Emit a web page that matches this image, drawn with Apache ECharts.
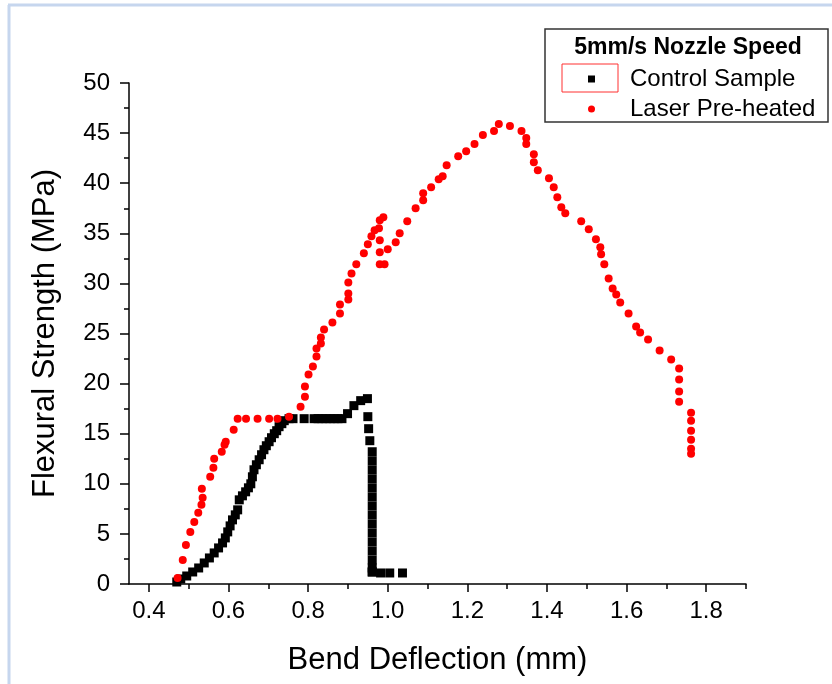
<!DOCTYPE html>
<html>
<head>
<meta charset="utf-8">
<script src="https://cdn.jsdelivr.net/npm/echarts@6/dist/echarts.min.js"></script>
<style>
html,body{margin:0;padding:0;background:#fff;}
#chart{width:832px;height:684px;}
</style>
</head>
<body>
<div id="chart"></div>
<script>
// ---- Data ----
const controlX = [0.470,0.480,0.495,0.510,0.525,0.539,0.552,0.564,0.575,0.585,0.592,0.598,0.604,0.610,0.617,0.623,0.627,0.635,0.643,0.650,0.656,0.660,0.664,0.670,0.677,0.683,0.689,0.695,0.702,0.708,0.715,0.721,0.727,0.734,0.740,0.752,0.762,0.790,0.815,0.825,0.835,0.845,0.855,0.865,0.875,0.885,0.899,0.915,0.932,0.949,0.950,0.952,0.955,0.961,0.961,0.961,0.961,0.961,0.961,0.961,0.961,0.961,0.961,0.961,0.961,0.961,0.961,0.961,0.961,0.982,1.005,1.037];
const controlY = [0.2,0.5,0.8,1.2,1.6,2.1,2.6,3.1,3.6,4.1,4.6,5.2,5.8,6.4,6.9,7.4,8.4,8.8,9.2,9.6,10.0,10.7,11.4,11.9,12.4,12.9,13.4,13.8,14.2,14.6,15.0,15.3,15.7,16.0,16.3,16.5,16.5,16.5,16.5,16.5,16.5,16.5,16.5,16.5,16.5,16.5,17.0,17.8,18.3,18.5,16.7,15.5,14.3,13.2,12.3,11.4,10.5,9.6,8.7,7.8,6.9,6.0,5.1,4.2,3.3,2.4,1.6,1.2,1.2,1.1,1.1,1.1];

const laserX = [0.472,0.485,0.493,0.504,0.514,0.524,0.532,0.535,0.533,0.554,0.562,0.564,0.583,0.590,0.593,0.613,0.623,0.644,0.673,0.702,0.723,0.752,0.781,0.792,0.792,0.801,0.812,0.821,0.821,0.832,0.832,0.840,0.861,0.880,0.880,0.901,0.901,0.901,0.909,0.921,0.940,0.950,0.959,0.967,0.978,0.980,0.989,0.980,0.980,0.980,0.992,1.000,1.020,1.030,1.049,1.070,1.089,1.089,1.109,1.128,1.138,1.148,1.177,1.197,1.218,1.239,1.267,1.279,1.307,1.336,1.348,1.348,1.367,1.367,1.377,1.405,1.417,1.426,1.436,1.446,1.486,1.505,1.523,1.534,1.536,1.544,1.555,1.565,1.574,1.584,1.605,1.624,1.634,1.654,1.683,1.712,1.732,1.732,1.732,1.732,1.762,1.762,1.762,1.762,1.762,1.762];
const laserY = [0.6,2.4,3.9,5.2,6.2,7.1,7.9,8.6,9.5,10.7,11.6,12.5,13.2,13.9,14.2,15.4,16.5,16.5,16.5,16.5,16.5,16.7,17.7,18.7,19.7,20.9,21.7,22.7,23.5,24.0,24.6,25.4,26.1,27.0,27.9,28.4,29.0,30.1,31.0,31.9,33.0,33.9,34.7,35.3,35.5,36.3,36.6,34.3,33.1,31.9,31.9,33.4,34.1,35.0,36.2,37.5,38.3,39.0,39.6,40.4,40.7,41.8,42.7,43.2,43.9,44.8,45.2,45.9,45.7,45.2,44.5,43.9,42.9,42.1,41.3,40.5,39.6,38.6,37.6,37.0,36.2,35.4,34.4,33.6,32.9,31.9,30.5,29.5,28.9,28.1,27.0,25.7,25.1,24.4,23.3,22.4,21.5,20.4,19.2,18.2,17.1,16.3,15.3,14.4,13.5,13.0];

const seriesNames = ['Control Sample','Laser Pre-heated'];
const legendTitle = '5mm/s Nozzle Speed';
const xMajorTicks = [0.4,0.6,0.8,1.0,1.2,1.4,1.6,1.8];
const xMinorTicks = [0.5,0.7,0.9,1.1,1.3,1.5,1.7,1.9];

// ---- Chart ----
const FONT = 'Liberation Sans, Arial, sans-serif';
const pairs = (xs, ys) => xs.map((x, i) => [x, ys[i]]);

const chart = echarts.init(document.getElementById('chart'), null, {renderer: 'canvas'});
chart.setOption({
  animation: false,
  backgroundColor: '#ffffff',
  grid: {left: 129, top: 83, right: 86, bottom: 100, containLabel: false},
  xAxis: [{
    type: 'value', min: 0.35, max: 1.9,
    name: 'Bend Deflection (mm)', nameLocation: 'middle', nameGap: 61,
    nameTextStyle: {fontFamily: FONT, fontSize: 31, color: '#000'},
    axisLine: {show: true, onZero: false, lineStyle: {color: '#000', width: 1.5}},
    axisTick: {show: true, inside: false, length: 8, customValues: xMajorTicks, lineStyle: {color: '#000', width: 1.5}},
    axisLabel: {show: true, margin: 15, customValues: xMajorTicks, fontFamily: FONT, fontSize: 24, color: '#000',
      formatter: v => v.toFixed(1)},
    splitLine: {show: false}
  }, {
    type: 'value', min: 0.35, max: 1.9, position: 'bottom',
    axisLine: {show: false},
    axisTick: {show: true, inside: false, length: 5, customValues: xMinorTicks, lineStyle: {color: '#000', width: 1.5}},
    axisLabel: {show: false},
    splitLine: {show: false}
  }],
  yAxis: {
    type: 'value', min: 0, max: 50, interval: 5,
    name: 'Flexural Strength (MPa)', nameLocation: 'middle', nameGap: 68, nameRotate: 90,
    nameTextStyle: {fontFamily: FONT, fontSize: 31, color: '#000'},
    axisLine: {show: true, lineStyle: {color: '#000', width: 1.5}},
    axisTick: {show: true, inside: false, length: 9, lineStyle: {color: '#000', width: 1.5}},
    minorTick: {show: true, splitNumber: 2, length: 5, lineStyle: {color: '#000', width: 1.5}},
    axisLabel: {margin: 19, fontFamily: FONT, fontSize: 24, color: '#000'},
    splitLine: {show: false}
  },
  legend: {
    orient: 'vertical', left: 583, top: 61, itemWidth: 7, itemHeight: 7, itemGap: 4,
    selectedMode: false,
    data: [
      {name: seriesNames[0], icon: 'rect'},
      {name: seriesNames[1], icon: 'circle'}
    ],
    itemStyle: {opacity: 1},
    textStyle: {fontFamily: FONT, fontSize: 24, color: '#000', lineHeight: 26, padding: [0, 0, 0, 30]}
  },
  graphic: [
    {type: 'line', shape: {x1: 8, y1: 5, x2: 832, y2: 5}, style: {stroke: '#c6d6ee', lineWidth: 3}, silent: true},
    {type: 'line', shape: {x1: 9, y1: 5, x2: 9, y2: 684}, style: {stroke: '#c6d6ee', lineWidth: 3}, silent: true},
    {type: 'rect', shape: {x: 545, y: 29, width: 283, height: 93}, style: {fill: 'none', stroke: '#333', lineWidth: 1.5}, silent: true, z: 10},
    {type: 'rect', shape: {x: 562, y: 64, width: 56, height: 28}, style: {fill: 'none', stroke: '#ff3030', lineWidth: 1}, silent: true, z: 10},
    {type: 'text', x: 688, y: 48, style: {text: legendTitle, fontFamily: FONT, fontSize: 23, fontWeight: 'bold', fill: '#000', align: 'center', verticalAlign: 'middle'}, silent: true, z: 10}
  ],
  series: [
    {name: seriesNames[0], type: 'scatter', symbol: 'rect', symbolSize: 9,
      itemStyle: {color: '#000000', opacity: 1}, data: pairs(controlX, controlY), z: 2},
    {name: seriesNames[1], type: 'scatter', symbol: 'circle', symbolSize: 8,
      itemStyle: {color: '#ff0000', opacity: 1}, data: pairs(laserX, laserY), z: 3}
  ]
});
</script>
</body>
</html>
